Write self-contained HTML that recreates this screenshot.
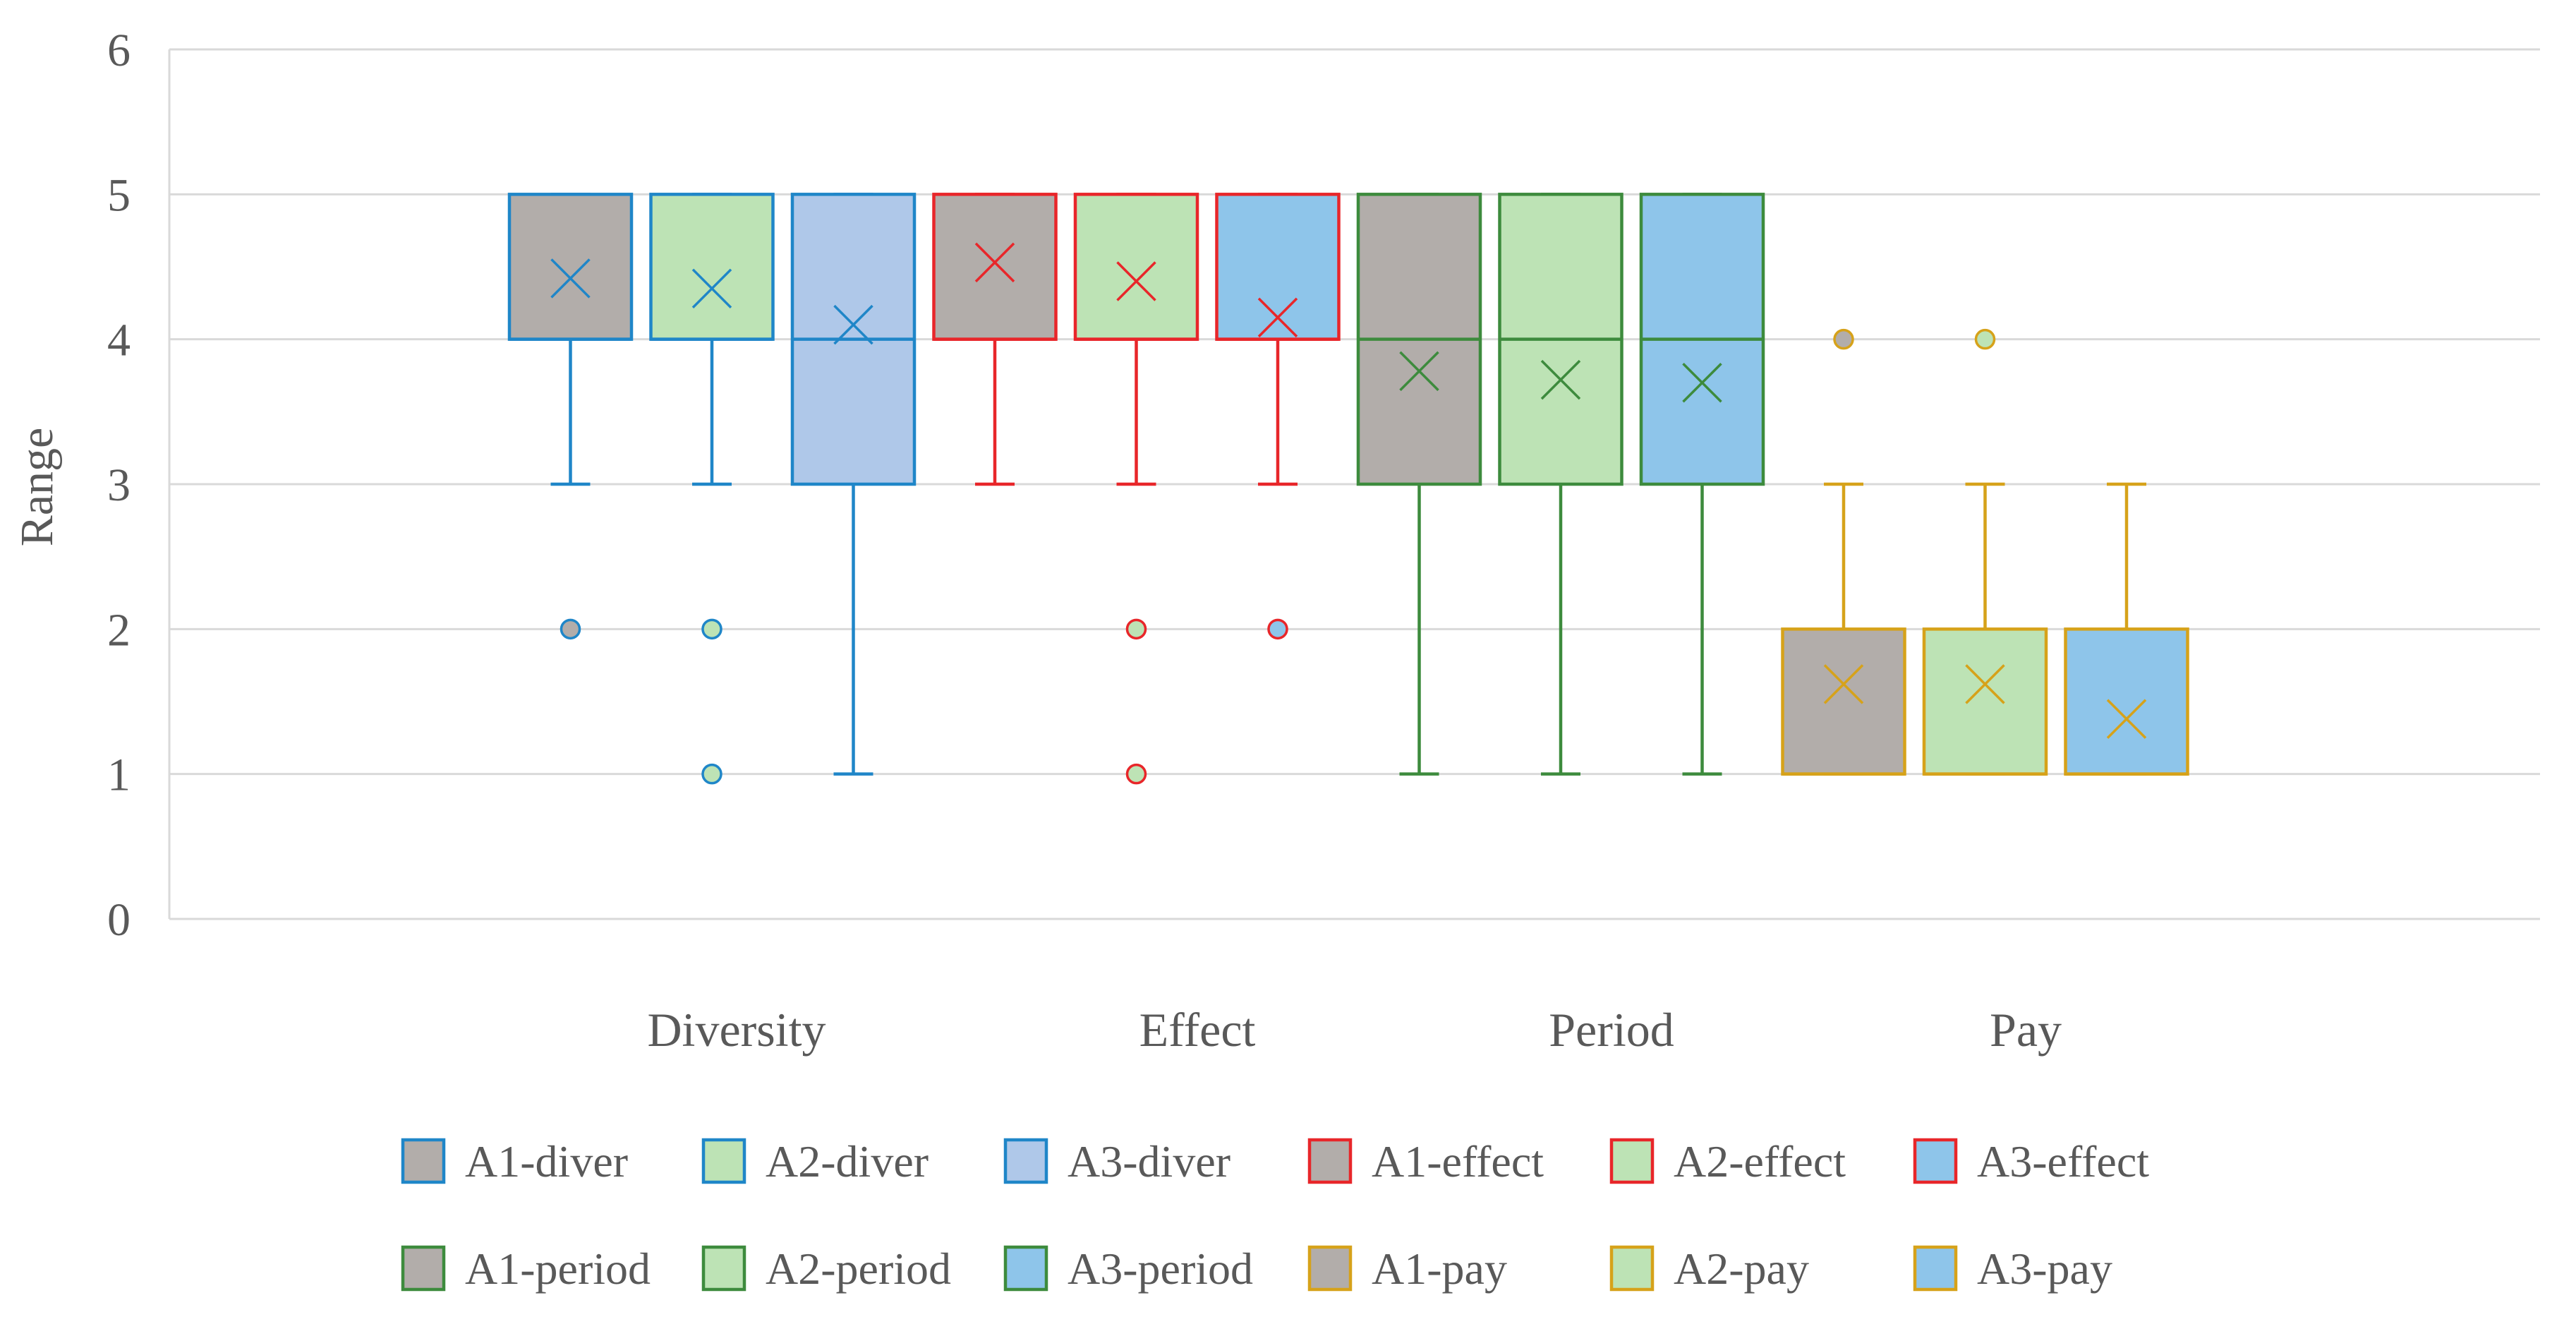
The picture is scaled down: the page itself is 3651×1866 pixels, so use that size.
<!DOCTYPE html>
<html><head><meta charset="utf-8"><style>
html,body{margin:0;padding:0;background:#fff;}
svg{display:block;font-family:"Liberation Serif",serif;}
</style></head><body>
<svg id="chart" width="3651" height="1866" viewBox="0 0 3651 1866" xmlns="http://www.w3.org/2000/svg">
<g id="grid"></g>
<g id="boxes"></g>
<g id="axes"></g>
<g id="legend"></g>
</svg>
<script>
const yTicks = [0,1,2,3,4,5,6];
const categories = ["Diversity","Effect","Period","Pay"];
const categoryLabelX = [1044, 1697, 2284, 2871];
const seriesNames = ["A1-diver","A2-diver","A3-diver","A1-effect","A2-effect","A3-effect","A1-period","A2-period","A3-period","A1-pay","A2-pay","A3-pay"];
const q1Vals = [4,4,3,4,4,4,3,3,3,1,1,1];
const q3Vals = [5,5,5,5,5,5,5,5,5,2,2,2];
const medianVals = [4,4,4,4,4,4,4,4,4,1,1,1];
const lowVals = [3,3,1,3,3,3,1,1,1,1,1,1];
const highVals = [5,5,5,5,5,5,5,5,5,3,3,3];
const meanVals = [4.42,4.35,4.1,4.53,4.4,4.15,3.78,3.72,3.7,1.62,1.62,1.38];
const outlierVals = [[2],[2,1],[],[],[2,1],[2],[],[],[],[4],[4],[]];
const fills = ["#b2adaa","#bde3b5","#afc8e9","#b2adaa","#bde3b5","#8ec5ea","#b2adaa","#bde3b5","#8ec5ea","#b2adaa","#bde3b5","#8ec5ea"];
const strokes = ["#1f86c8","#1f86c8","#1f86c8","#e8262a","#e8262a","#e8262a","#3d8b3d","#3d8b3d","#3d8b3d","#d6a21a","#d6a21a","#d6a21a"];

const NS="http://www.w3.org/2000/svg";
const L=240, R=3600, T=70, B=1302;
const y = v => B - (v/6)*(B-T);
const boxStep=200.5, boxW=173, box0=722;
const xc = i => box0 + i*boxStep + boxW/2;
function mk(tag, attrs, parent){const e=document.createElementNS(NS,tag);for(const k in attrs)e.setAttribute(k,attrs[k]);parent.appendChild(e);return e;}

const grid=document.getElementById('grid');
yTicks.forEach(t=>{
  const ln=mk('line',{x1:L,x2:R,y1:y(t),y2:y(t),stroke:'#d9d9d9','stroke-width':3},grid);
  
  
});
const axes=document.getElementById('axes');
const ax=mk('line',{x1:L,x2:L,y1:T,y2:B,stroke:'#d9d9d9','stroke-width':3},axes);


yTicks.forEach(t=>{
  const tx=mk('text',{x:185,y:y(t)+23,'font-size':66,fill:'#595959','text-anchor':'end'},axes);
  tx.textContent=t;
  
  
});
const yt=mk('text',{x:0,y:0,'font-size':66,fill:'#595959','text-anchor':'middle',transform:'translate(74,690) rotate(-90)'},axes);
yt.textContent='Range';


categories.forEach((c,i)=>{
  const tx=mk('text',{x:categoryLabelX[i],y:1482,'font-size':68,fill:'#595959','text-anchor':'middle'},axes);
  tx.textContent=c;
  
  
});

const boxes=document.getElementById('boxes');
seriesNames.forEach((n,i)=>{
  const g=mk('g',{},boxes);
  
  
  const c=xc(i), s=strokes[i], sw=4.5;
  mk('line',{x1:c,x2:c,y1:y(lowVals[i]),y2:y(q1Vals[i]),stroke:s,'stroke-width':sw},g);
  mk('line',{x1:c,x2:c,y1:y(q3Vals[i]),y2:y(highVals[i]),stroke:s,'stroke-width':sw},g);
  mk('line',{x1:c-28,x2:c+28,y1:y(lowVals[i]),y2:y(lowVals[i]),stroke:s,'stroke-width':sw},g);
  mk('line',{x1:c-28,x2:c+28,y1:y(highVals[i]),y2:y(highVals[i]),stroke:s,'stroke-width':sw},g);
  mk('rect',{x:c-boxW/2,y:y(q3Vals[i]),width:boxW,height:y(q1Vals[i])-y(q3Vals[i]),fill:fills[i],stroke:s,'stroke-width':sw},g);
  mk('line',{x1:c-boxW/2,x2:c+boxW/2,y1:y(medianVals[i]),y2:y(medianVals[i]),stroke:s,'stroke-width':sw},g);
  const my=y(meanVals[i]);
  mk('path',{d:`M${c-27},${my-27}L${c+27},${my+27}M${c-27},${my+27}L${c+27},${my-27}`,stroke:s,'stroke-width':3.5,fill:'none'},g);
  outlierVals[i].forEach(v=>{
    const o=mk('circle',{cx:c,cy:y(v),r:13,fill:fills[i],stroke:s,'stroke-width':3.5},g);
    
    
  });
});

const legend=document.getElementById('legend');
const legX=[571,997,1425,1856,2284,2714], legY=[1645,1797];
seriesNames.forEach((n,i)=>{
  const g=mk('g',{},legend);
  
  
  const lx=legX[i%6], ly=legY[Math.floor(i/6)];
  mk('rect',{x:lx,y:ly-30,width:58,height:60,fill:fills[i],stroke:strokes[i],'stroke-width':4.5},g);
  const t=mk('text',{x:lx+88,y:ly+22,'font-size':64,fill:'#595959'},g);
  t.textContent=n;
});
</script>
</body></html>
